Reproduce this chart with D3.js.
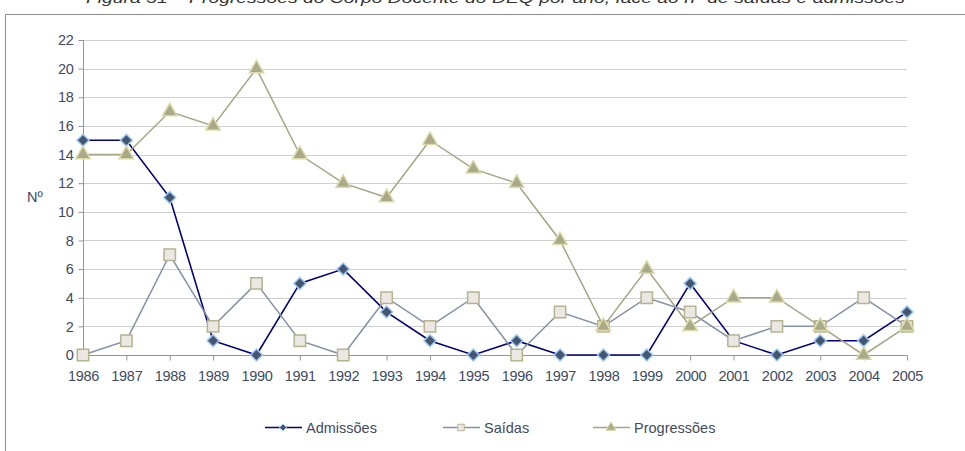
<!DOCTYPE html>
<html><head><meta charset="utf-8">
<script src="https://cdn.jsdelivr.net/npm/d3@7"></script>
<style>html,body{margin:0;padding:0;background:#fff;}svg{display:block;}</style>
</head><body>
<svg id="c" width="965" height="451"></svg>
<script>
const years = ["1986","1987","1988","1989","1990","1991","1992","1993","1994","1995","1996","1997","1998","1999","2000","2001","2002","2003","2004","2005"];
const admissoes = [15,15,11,1,0,5,6,3,1,0,1,0,0,0,5,1,0,1,1,3];
const saidas = [0,1,7,2,5,1,0,4,2,4,0,3,2,4,3,1,2,2,4,2];
const progressoes = [14,14,17,16,20,14,12,11,15,13,12,8,2,6,2,4,4,2,0,2];
const yTicks = [0,2,4,6,8,10,12,14,16,18,20,22];
const seriesNames = ["Admissões","Saídas","Progressões"];
const titleText = "Figura 51 – Progressões do Corpo Docente do DEQ por ano, face ao nº de saídas e admissões";

const svg = d3.select("#c");
const font = "'Liberation Sans', Arial, sans-serif";
const txtCol = "#414b5e";
const fs = 14.5;

// frame
svg.append("path").attr("d","M5.5,451 V14.5 H965").attr("fill","none").attr("stroke","#8a8a8a").attr("stroke-width",1);
// title (clipped at top edge, as in the reference)
svg.append("text").attr("x",86).attr("y",3).attr("font-family",font).attr("font-style","italic")
  .attr("font-size",15).attr("fill","#333").attr("textLength",819).attr("lengthAdjust","spacingAndGlyphs").text(titleText);

const x = d3.scalePoint().domain(years).range([83,907]);
const y = d3.scaleLinear().domain([0,22]).range([355,40]);

// grid
svg.append("g").selectAll("line").data(yTicks.filter(d=>d>0)).join("line")
  .attr("x1",83).attr("x2",907).attr("y1",d=>Math.round(y(d))+0.5).attr("y2",d=>Math.round(y(d))+0.5)
  .attr("stroke","#cfcfcf").attr("stroke-width",1);

// y axis
const ya = svg.append("g").attr("transform","translate(83.5,0)")
  .call(d3.axisLeft(y).tickValues(yTicks).tickSize(5).tickPadding(5).tickFormat(d3.format("d")));
ya.select(".domain").attr("stroke","#8c96a8").attr("d","M0,40V355");
ya.selectAll(".tick line").attr("stroke","#8c96a8");
ya.selectAll("text").attr("font-family",font).attr("font-size",fs).attr("fill",txtCol).attr("letter-spacing","-0.3");

// x axis
const xa = svg.append("g").attr("transform","translate(0,355.5)")
  .call(d3.axisBottom(x).tickSize(5).tickPadding(10));
xa.select(".domain").attr("stroke","#8c96a8").attr("d","M83,0H907");
xa.selectAll(".tick line").attr("stroke","#8c96a8");
xa.selectAll("text").attr("font-family",font).attr("font-size",fs).attr("fill",txtCol).attr("letter-spacing","-0.3");

// y label
svg.append("text").attr("x",27).attr("y",202).attr("font-family",font).attr("font-size",fs).attr("fill",txtCol).text("Nº");

const line = d3.line().x((d,i)=>x(years[i])).y(d=>y(d));

const diamond = {draw(ctx,size){const r=Math.sqrt(size/2);ctx.moveTo(0,-r);ctx.lineTo(r,0);ctx.lineTo(0,r);ctx.lineTo(-r,0);ctx.closePath();}};

const styles = [
  {data:admissoes, line:"#000080", lw:1.6, shape:diamond, size:72, fill:"#46566f", stroke:"#9ccaf5", lsize:26},
  {data:saidas, line:"#8391a6", lw:1.5, shape:d3.symbolSquare, size:130, fill:"#ebe8e3", stroke:"#b6b390", lsize:42},
  {data:progressoes, line:"#a6a585", lw:1.5, shape:d3.symbolTriangle, size:90, fill:"#a9a889", stroke:"#dadaa8", lsize:40}
];

styles.forEach(s=>{
  const g = svg.append("g");
  g.append("path").attr("d",line(s.data)).attr("fill","none").attr("stroke",s.line).attr("stroke-width",s.lw);
  g.selectAll("path.m").data(s.data).join("path").attr("class","m")
    .attr("transform",(d,i)=>`translate(${x(years[i])},${y(d)})`)
    .attr("d",d3.symbol().type(s.shape).size(s.size)())
    .attr("fill",s.fill).attr("stroke",s.stroke).attr("stroke-width",1.5);
});

// legend
const legX = [265,443,593];
seriesNames.forEach((n,i)=>{
  const s = styles[i];
  const g = svg.append("g").attr("transform",`translate(${legX[i]},427)`);
  g.append("line").attr("x1",0).attr("x2",37).attr("y1",0.5).attr("y2",0.5).attr("stroke",s.line).attr("stroke-width",1.5);
  g.append("path").attr("transform","translate(18,0.5)").attr("d",d3.symbol().type(s.shape).size(s.lsize)())
    .attr("fill",s.fill).attr("stroke",s.stroke).attr("stroke-width",1);
  g.append("text").attr("x",41).attr("y",5.5).attr("font-family",font).attr("font-size",fs).attr("fill",txtCol).text(n);
});
</script>
</body></html>
